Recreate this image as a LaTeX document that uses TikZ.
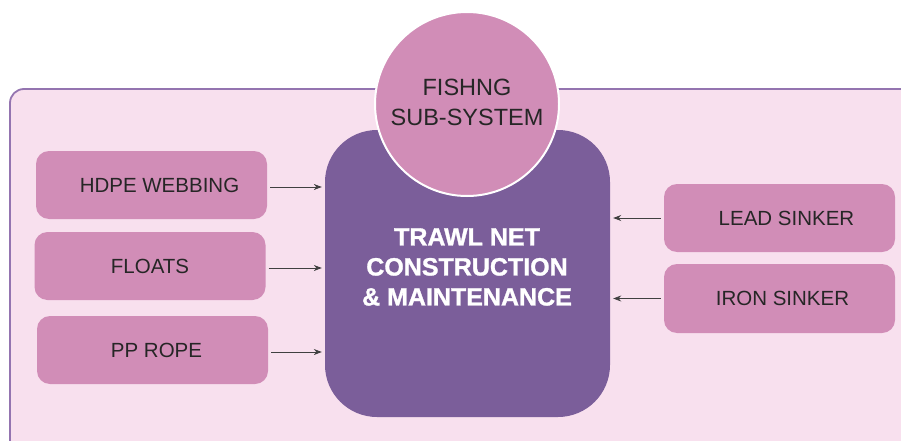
\documentclass[tikz,border=0pt]{standalone}
\usepackage{fontspec}
\setmainfont{Liberation Sans}
\newfontfamily\heavyfont[FakeBold=1.2]{Liberation Sans Bold}
\usetikzlibrary{arrows.meta}
\definecolor{bgpink}{HTML}{F8E0EE}
\definecolor{frame}{HTML}{9474B0}
\definecolor{boxpink}{HTML}{D18DB7}
\definecolor{corepurple}{HTML}{7B5E9A}
\begin{document}
\begin{tikzpicture}[x=1pt,y=-1pt,
  itembox/.style={draw=none,fill=boxpink,rounded corners=13pt,minimum width=231pt,minimum height=68pt,inner sep=0pt,font=\fontsize{20.5}{24}\selectfont,text=black!85},
  feed/.style={draw=black!75,line width=0.7pt,-{Stealth[length=8pt,width=6pt]},shorten <=3pt,shorten >=3pt}]
\useasboundingbox (0,0) rectangle (901,441);
\begin{scope}
\clip (0,0) rectangle (901,441);
\draw[fill=bgpink,draw=frame,line width=1.8pt,rounded corners=14pt] (10,89) rectangle (930,470);
\end{scope}
\node[fill=corepurple,rounded corners=52pt,minimum width=285pt,minimum height=287pt,inner sep=0pt] (core) at (467.5,273.5) {};
\node[text=white,align=center,font=\fontsize{25}{30}\selectfont\heavyfont] (coretext) at (467,267) {TRAWL NET\\CONSTRUCTION\\\& MAINTENANCE};
\node[circle,fill=boxpink,draw=white,line width=2pt,minimum size=184pt,inner sep=0pt] (fish) at (467,104) {};
\node[align=center,font=\fontsize{23.5}{30}\selectfont,text=black!85] (fishtext) at (467,102) {FISHNG\\SUB-SYSTEM};
\node[itembox] (hdpe) at (151.5,185) {\hspace{16pt}HDPE WEBBING};
\node[itembox] (floats) at (150,266) {FLOATS};
\node[itembox] (pp) at (152.5,350) {\hspace{8pt}PP ROPE};
\node[itembox] (lead) at (779.5,218) {\hspace{14pt}LEAD SINKER};
\node[itembox,minimum height=69pt] (iron) at (779.5,298.5) {\hspace{6pt}IRON SINKER};
\draw[feed] ([yshift=-2pt]hdpe.east) -- ([yshift=-2pt]hdpe.east -| core.west);
\draw[feed] ([yshift=-2pt]floats.east) -- ([yshift=-2pt]floats.east -| core.west);
\draw[feed] ([yshift=-2pt]pp.east) -- ([yshift=-2pt]pp.east -| core.west);
\draw[feed] (lead.west) -- (lead.west -| core.east);
\draw[feed] (iron.west) -- (iron.west -| core.east);
\end{tikzpicture}
\end{document}
